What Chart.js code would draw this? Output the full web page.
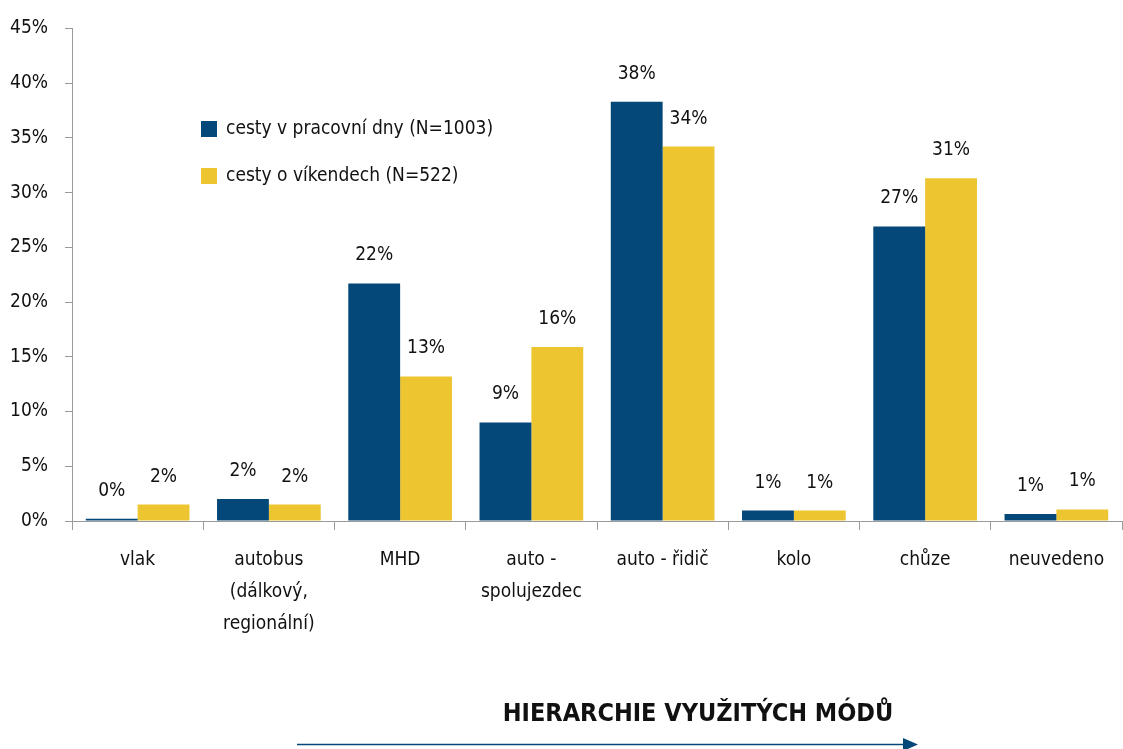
<!DOCTYPE html>
<html>
<head>
<meta charset="utf-8">
<script src="https://cdn.jsdelivr.net/npm/chart.js@4.4.1/dist/chart.umd.min.js"></script>
<style>
html,body{margin:0;padding:0;background:#fff;}
#wrap{width:1123px;height:749px;position:relative;}
</style>
</head>
<body>
<div id="wrap"><canvas id="c" width="1123" height="749"></canvas></div>
<script>
const categories = [
  'vlak',
  ['autobus', '(dálkový,', 'regionální)'],
  'MHD',
  ['auto -', 'spolujezdec'],
  'auto - řidič',
  'kolo',
  'chůze',
  'neuvedeno'
];
const seriesNames = ['cesty v pracovní dny (N=1003)', 'cesty o víkendech (N=522)'];
const weekdayValues = [0.2, 2.0, 21.7, 9.0, 38.3, 0.95, 26.9, 0.65];
const weekendValues = [1.5, 1.5, 13.2, 15.9, 34.2, 0.95, 31.3, 1.05];
const yTicks = [0, 5, 10, 15, 20, 25, 30, 35, 40, 45];
const footerTitle = 'HIERARCHIE VYUŽITÝCH MÓDŮ';

const BLUE = '#034878';
const YELLOW = '#ECC530';
const FONT = "'Liberation Sans Narrow', 'DejaVu Sans Condensed', 'Roboto', sans-serif";

const extras = {
  id: 'extras',
  afterDatasetsDraw(chart) {
    const ctx = chart.ctx;
    ctx.save();
    // data labels
    ctx.fillStyle = '#111';
    ctx.font = '19px ' + FONT;
    ctx.textAlign = 'center';
    ctx.textBaseline = 'middle';
    chart.data.datasets.forEach((ds, i) => {
      const meta = chart.getDatasetMeta(i);
      meta.data.forEach((el, j) => {
        ctx.fillText(Math.round(ds.data[j]) + '%', el.x, el.y - 28);
      });
    });
    // legend
    const lx = 201, ly = [129, 176];
    chart.data.datasets.forEach((ds, i) => {
      ctx.fillStyle = ds.backgroundColor;
      ctx.fillRect(lx, ly[i] - 8, 16, 16);
      ctx.fillStyle = '#111';
      ctx.textAlign = 'left';
      ctx.font = '19px ' + FONT;
      ctx.fillText(ds.label, lx + 25, ly[i]);
    });
    // footer title and arrow
    ctx.fillStyle = '#111';
    ctx.textAlign = 'center';
    ctx.font = 'bold 25px ' + FONT;
    ctx.fillText(footerTitle, 698, 714);
    ctx.strokeStyle = BLUE;
    ctx.lineWidth = 1.5;
    ctx.beginPath();
    ctx.moveTo(297, 744.5);
    ctx.lineTo(905, 744.5);
    ctx.stroke();
    ctx.fillStyle = BLUE;
    ctx.beginPath();
    ctx.moveTo(918, 744.5);
    ctx.lineTo(903, 738);
    ctx.lineTo(903, 751);
    ctx.closePath();
    ctx.fill();
    ctx.restore();
  }
};

new Chart(document.getElementById('c'), {
  type: 'bar',
  data: {
    labels: categories,
    datasets: [
      { label: seriesNames[0], data: weekdayValues, backgroundColor: BLUE },
      { label: seriesNames[1], data: weekendValues, backgroundColor: YELLOW }
    ]
  },
  options: {
    responsive: false,
    animation: false,
    devicePixelRatio: 1,
    layout: { padding: { left: 0, right: 1, top: 27, bottom: 98 } },
    plugins: { legend: { display: false }, tooltip: { enabled: false } },
    datasets: { bar: { categoryPercentage: 0.79, barPercentage: 1.0 } },
    scales: {
      x: {
        offset: true,
        grid: { offset: true, drawOnChartArea: false, drawTicks: true, tickLength: 9, color: '#9a9a9a' },
        border: { color: '#9a9a9a', width: 1 },
        ticks: { color: '#111', font: { family: FONT, size: 19, lineHeight: 1.68 }, padding: 14, maxRotation: 0, autoSkip: false },
        afterFit(s) { s.height = 130; }
      },
      y: {
        min: 0, max: 45,
        afterBuildTicks(s) { s.ticks = yTicks.map(v => ({ value: v })); },
        grid: { drawOnChartArea: false, drawTicks: true, tickLength: 7, color: '#9a9a9a' },
        border: { color: '#9a9a9a', width: 1 },
        ticks: { color: '#111', font: { family: FONT, size: 19 }, padding: 17, callback: v => v + '%' },
        afterFit(s) { s.width = 72; }
      }
    }
  },
  plugins: [extras]
});
</script>
</body>
</html>
